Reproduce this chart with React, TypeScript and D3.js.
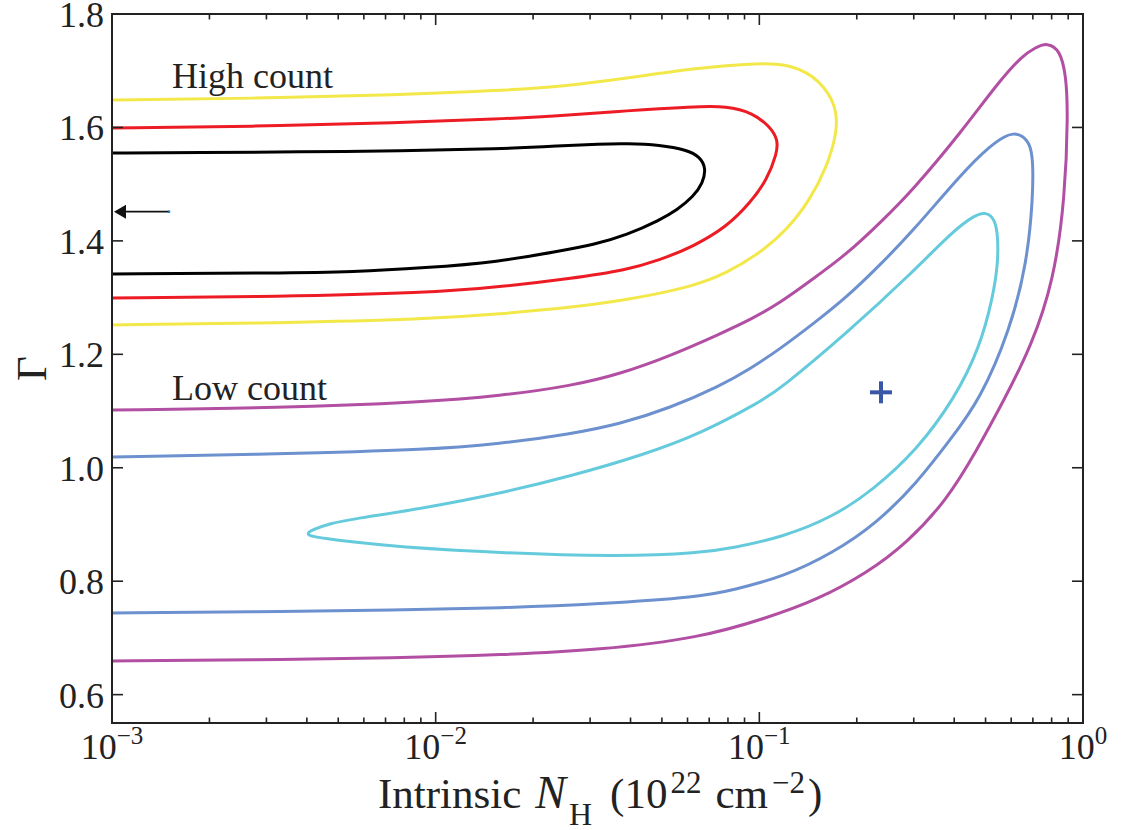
import React from 'react';
import * as d3 from 'd3';

type Pt = [number, number]; // [N_H (1e22 cm^-2), photon index Γ]

const W = 1124;
const H = 830;
const margin = { left: 112, right: 41, top: 14, bottom: 107 };

const xDomain: [number, number] = [1e-3, 1];
const yDomain: [number, number] = [0.55, 1.8];
const yTickValues = [0.6, 0.8, 1.0, 1.2, 1.4, 1.6, 1.8];
const xMajorTicks = [1e-3, 1e-2, 1e-1, 1];
const xTickExponents = ['−3', '−2', '−1', '0'];

// High-count spectrum: 1σ / 2σ / 3σ confidence contours
const highInner: Pt[] = [
  [0.001, 1.555], [0.00187, 1.5559], [0.00381, 1.5568], [0.00776, 1.5585], [0.01581, 1.5621],
  [0.02422, 1.5674], [0.03219, 1.5709], [0.039, 1.5718], [0.04932, 1.5691], [0.05977, 1.5603],
  [0.06557, 1.548], [0.06843, 1.5286], [0.06698, 1.5021], [0.06239, 1.4774], [0.05565, 1.4545],
  [0.04932, 1.4369], [0.039, 1.4104], [0.03063, 1.3928], [0.02422, 1.3822], [0.01558, 1.3628],
  [0.00927, 1.3523], [0.00555, 1.3452], [0.0033, 1.3434], [0.001, 1.3417],
];
const highMid: Pt[] = [
  [0.001, 1.5991], [0.002669, 1.6017], [0.007758, 1.6079], [0.01581, 1.615], [0.02422, 1.6202],
  [0.039, 1.6296], [0.06239, 1.6366], [0.07945, 1.6379], [0.09559, 1.6255], [0.10789, 1.6014],
  [0.1142, 1.5779], [0.11339, 1.555], [0.10561, 1.5074], [0.09359, 1.4669], [0.07945, 1.4251],
  [0.06239, 1.3898], [0.04932, 1.3664], [0.039, 1.3488], [0.02619, 1.3337], [0.01581, 1.3188],
  [0.00927, 1.3082], [0.0033, 1.3017], [0.001, 1.2994],
];
const highOuter: Pt[] = [
  [0.001, 1.6484], [0.002669, 1.6511], [0.007758, 1.6573], [0.01581, 1.6652], [0.02422, 1.6719],
  [0.039, 1.6867], [0.06239, 1.7043], [0.10049, 1.7142], [0.12706, 1.7102], [0.15393, 1.6837],
  [0.17378, 1.6366], [0.17378, 1.5903], [0.16181, 1.5309], [0.14337, 1.4721], [0.12177, 1.4193],
  [0.10049, 1.3787], [0.07945, 1.3434], [0.06239, 1.3193], [0.039, 1.2958], [0.02619, 1.2826],
  [0.01581, 1.2712], [0.00927, 1.2615], [0.0033, 1.2553], [0.001, 1.2518],
];

// Low-count spectrum: 1σ / 2σ / 3σ confidence contours
const lowOuter: Pt[] = [
  [0.001, 1.1019], [0.0033, 1.1054], [0.00927, 1.116], [0.01581, 1.1266], [0.02619, 1.1442],
  [0.03711, 1.1654], [0.05297, 1.1971], [0.07556, 1.2359], [0.09359, 1.2606], [0.11583, 1.2906],
  [0.14647, 1.3329], [0.18655, 1.3769], [0.23595, 1.4316], [0.29836, 1.4898], [0.42578, 1.5956],
  [0.54231, 1.6767], [0.6525, 1.7278], [0.7106, 1.7401], [0.77374, 1.7498], [0.84907, 1.7366],
  [0.886, 1.6925], [0.89885, 1.6255], [0.87999, 1.4774], [0.8136, 1.3311], [0.691, 1.213],
  [0.57, 1.1195], [0.4704, 1.0314], [0.38, 0.9432], [0.2859, 0.8674], [0.21508, 0.8145],
  [0.15071, 0.7669], [0.10561, 0.7352], [0.06557, 0.6999], [0.03219, 0.6788], [0.01581, 0.67],
  [0.00776, 0.6647], [0.00267, 0.6611], [0.001, 0.6594],
];
const lowMid: Pt[] = [
  [0.001, 1.019], [0.0033, 1.0243], [0.00927, 1.0314], [0.01581, 1.042], [0.02619, 1.0596],
  [0.03711, 1.0772], [0.05297, 1.1054], [0.07556, 1.1442], [0.09359, 1.1742], [0.11583, 1.2095],
  [0.14647, 1.2535], [0.18655, 1.3011], [0.23595, 1.3575], [0.29836, 1.4175], [0.42578, 1.5215],
  [0.5161, 1.5674], [0.57412, 1.585], [0.60769, 1.5894], [0.6479, 1.5867], [0.6861, 1.5709],
  [0.70068, 1.5427], [0.70068, 1.4774], [0.6714, 1.3611], [0.5949, 1.2429], [0.4805, 1.1195],
  [0.38823, 1.049], [0.307, 0.9732], [0.23095, 0.9027], [0.16885, 0.8498], [0.11834, 0.8075],
  [0.08291, 0.7846], [0.06557, 0.7722], [0.03219, 0.7599], [0.01581, 0.7528], [0.00776, 0.7493],
  [0.00267, 0.7458], [0.001, 0.744],
];
const lowInner: Pt[] = [
  [0.004004, 0.8842], [0.004148, 0.8903], [0.004715, 0.9018], [0.005554, 0.9097], [0.009268, 0.9291],
  [0.015584, 0.9538], [0.026188, 0.9855], [0.043708, 1.0226], [0.065574, 1.0596], [0.10049, 1.116],
  [0.11583, 1.1389], [0.18655, 1.2377], [0.29836, 1.3452], [0.39662, 1.4175], [0.46366, 1.4457],
  [0.50153, 1.451], [0.53475, 1.4386], [0.5462, 1.4069], [0.5462, 1.3611], [0.52705, 1.3011],
  [0.4805, 1.213], [0.40223, 1.1231], [0.307, 1.0314], [0.2245, 0.9608], [0.16885, 0.9133],
  [0.11834, 0.878], [0.08291, 0.8586], [0.06557, 0.8498], [0.03711, 0.8427], [0.013135, 0.8516],
  [0.006587, 0.8639], [0.004392, 0.8762], [0.004089, 0.8797],
];

const bestFit: Pt = [0.2376, 1.133];
const upperLimit: Pt = [0.0015, 1.4515];

const contours = [
  { id: 'high-3s', data: highOuter, color: '#f3e84a', closed: false },
  { id: 'high-2s', data: highMid, color: '#ed1c24', closed: false },
  { id: 'high-1s', data: highInner, color: '#000000', closed: false },
  { id: 'low-3s', data: lowOuter, color: '#b24fa3', closed: false },
  { id: 'low-2s', data: lowMid, color: '#6d91cf', closed: false },
  { id: 'low-1s', data: lowInner, color: '#65cbdc', closed: true },
];

const FONT = '"Liberation Serif", "Times New Roman", serif';
const AXIS = '#222';

export default function App() {
  const x = d3.scaleLog().domain(xDomain).range([margin.left, W - margin.right]);
  const y = d3.scaleLinear().domain(yDomain).range([H - margin.bottom, margin.top]);
  const x0 = margin.left;
  const x1 = W - margin.right;
  const y0 = H - margin.bottom;
  const y1 = margin.top;

  const openLine = d3
    .line<Pt>()
    .x((d) => x(d[0]))
    .y((d) => y(d[1]))
    .curve(d3.curveBasis);
  const closedLine = d3
    .line<Pt>()
    .x((d) => x(d[0]))
    .y((d) => y(d[1]))
    .curve(d3.curveBasisClosed);

  const xMinor: number[] = [];
  [1e-3, 1e-2, 1e-1].forEach((dec) => {
    for (let k = 2; k <= 9; k++) xMinor.push(k * dec);
  });

  const majorLen = 11;
  const minorLen = 5.5;

  const tail = [x(upperLimit[0]), y(upperLimit[1])];
  const tipX = x0 + 2;

  return (
    <svg
      width={W}
      height={H}
      style={{ position: 'absolute', left: 0, top: 0, background: '#fff' }}
      fontFamily={FONT}
    >
      <defs>
        <clipPath id="plot-area">
          <rect x={x0} y={y1} width={x1 - x0} height={y0 - y1} />
        </clipPath>
      </defs>

      <g clipPath="url(#plot-area)">
        {contours.map((c) => (
          <path
            key={c.id}
            d={(c.closed ? closedLine : openLine)(c.data) || ''}
            fill="none"
            stroke={c.color}
            strokeWidth={3}
            strokeLinejoin="round"
          />
        ))}

        {/* best-fit position */}
        <g stroke="#3a56a6" strokeWidth={4}>
          <line x1={x(bestFit[0]) - 11} x2={x(bestFit[0]) + 11} y1={y(bestFit[1])} y2={y(bestFit[1])} />
          <line x1={x(bestFit[0])} x2={x(bestFit[0])} y1={y(bestFit[1]) - 11} y2={y(bestFit[1]) + 11} />
        </g>

        {/* upper limit on N_H */}
        <line x1={tail[0]} x2={tipX + 10} y1={tail[1]} y2={tail[1]} stroke="#111" strokeWidth={1.6} />
        <path
          d={`M${tipX},${tail[1]} L${tipX + 12},${tail[1] - 7} L${tipX + 12},${tail[1] + 7} Z`}
          fill="#111"
        />
        <rect x={tail[0] - 1.2} y={tail[1] - 1.2} width={2.4} height={2.4} fill="#1f77b4" />
      </g>

      <text x={172} y={88} fontSize={36} fill="#222">High count</text>
      <text x={172} y={400} fontSize={36} fill="#222">Low count</text>

      {/* frame */}
      <rect x={x0} y={y1} width={x1 - x0} height={y0 - y1} fill="none" stroke={AXIS} strokeWidth={2} />

      {/* ticks on all four sides, pointing inwards */}
      <g stroke={AXIS} strokeWidth={1.6}>
        {xMajorTicks.map((t) => (
          <g key={'xm' + t}>
            <line x1={x(t)} x2={x(t)} y1={y0} y2={y0 - majorLen} />
            <line x1={x(t)} x2={x(t)} y1={y1} y2={y1 + majorLen} />
          </g>
        ))}
        {xMinor.map((t) => (
          <g key={'xn' + t}>
            <line x1={x(t)} x2={x(t)} y1={y0} y2={y0 - minorLen} />
            <line x1={x(t)} x2={x(t)} y1={y1} y2={y1 + minorLen} />
          </g>
        ))}
        {yTickValues.map((t) => (
          <g key={'y' + t}>
            <line x1={x0} x2={x0 + majorLen} y1={y(t)} y2={y(t)} />
            <line x1={x1} x2={x1 - majorLen} y1={y(t)} y2={y(t)} />
          </g>
        ))}
      </g>

      {/* y tick labels */}
      {yTickValues.map((t) => (
        <text key={'yl' + t} x={104} y={y(t) + 13} fontSize={36} textAnchor="end" fill="#222">
          {d3.format('.1f')(t)}
        </text>
      ))}

      {/* x tick labels */}
      {xMajorTicks.map((t, i) => (
        <text key={'xl' + t} x={x(t)} y={759} fontSize={36} textAnchor="middle" fill="#222">
          10
          <tspan dy={-15} fontSize={25}>
            {xTickExponents[i]}
          </tspan>
        </text>
      ))}

      {/* axis titles */}
      <text x={378} y={808} fontSize={43} fill="#222">
        Intrinsic
        <tspan dx={14} fontStyle="italic" fontSize={46}>N</tspan>
        <tspan dx={3} dy={17} fontSize={32}>H</tspan>
        <tspan dx={18} dy={-17}>(10</tspan>
        <tspan dx={3} dy={-15} fontSize={31}>22</tspan>
        <tspan dx={14} dy={15}>cm</tspan>
        <tspan dx={4} dy={-15} fontSize={31}>−2</tspan>
        <tspan dx={3} dy={15}>)</tspan>
      </text>
      <text transform={`translate(46, ${(y0 + y1) / 2}) rotate(-90)`} fontSize={43} textAnchor="middle" fill="#222">
        Γ
      </text>
    </svg>
  );
}
